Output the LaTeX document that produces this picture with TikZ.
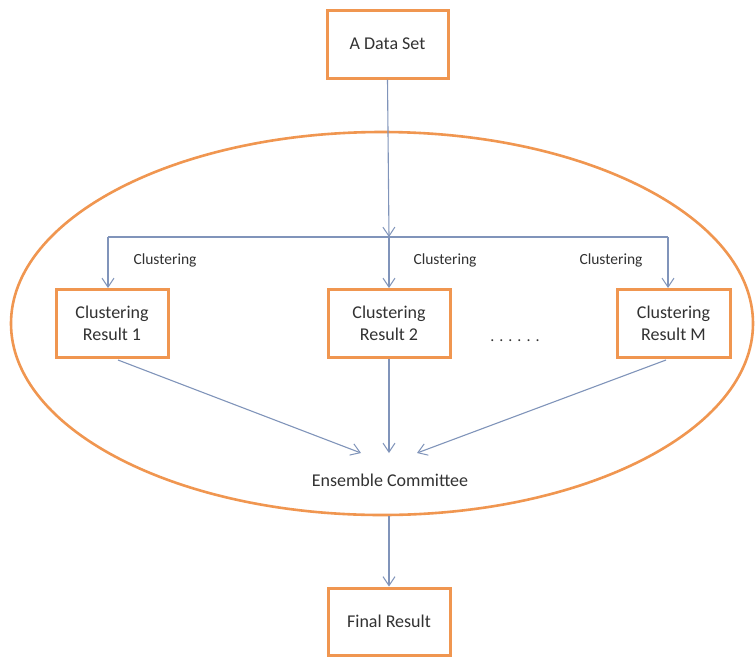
\documentclass[tikz,border=0pt]{standalone}
\usepackage{fontspec}
\setmainfont{Carlito}
\usetikzlibrary{arrows.meta,shapes.geometric}
\definecolor{boxorange}{RGB}{240,150,80}
\definecolor{linkblue}{RGB}{128,148,186}
\definecolor{txt}{RGB}{50,50,50}
\begin{document}
\begin{tikzpicture}[x=1pt,y=-1pt,
  box/.style={draw=boxorange,line width=3pt,fill=white,inner sep=0pt,
    minimum height=68pt,align=center,text=txt,font=\fontsize{18}{22}\selectfont},
  label/.style={text=txt,font=\fontsize{15.5}{18}\selectfont,inner sep=0pt},
  link/.style={draw=linkblue,line width=1.1pt,
    -{Straight Barb[length=9pt,width=12pt,line width=1pt]}},
  plain/.style={draw=linkblue,line width=1.1pt}]
\useasboundingbox (0,0) rectangle (755,657);
\fill[white] (0,0) rectangle (755,657);

% the committee ring
\node[ellipse,draw=boxorange,line width=2.6pt,minimum width=742pt,
  minimum height=383pt,inner sep=0pt] (ring) at (382,323.5) {};

% boxes
\node[box,minimum width=121pt] (data) at (387.5,44) {A Data Set};
\node[box,minimum width=112pt] (r1) at (112,323.5) {Clustering\\Result 1};
\node[box,minimum width=122pt] (r2) at (389,323.5) {Clustering\\Result 2};
\node[box,minimum width=113pt] (rm) at (673.5,323.5) {Clustering\\Result M};
\node[box,minimum width=122pt,minimum height=67pt] (final) at (389,621.5) {Final Result};

% labels
\node[label] (c1) at (165,260) {Clustering};
\node[label] (c2) at (445,260) {Clustering};
\node[label] (cm) at (611,260) {Clustering};
\node[text=txt,font=\fontsize{16}{18}\selectfont,inner sep=0pt] (dots) at (515,341)
  {.\hspace{5pt}.\hspace{5pt}.\hspace{5pt}.\hspace{5pt}.\hspace{5pt}.};
\node[text=txt,font=\fontsize{18}{22}\selectfont,inner sep=0pt] (ens) at (390,480) {Ensemble Committee};

% split of the data set
\coordinate (split) at (389,237);
\coordinate (bendL) at (108,237);
\coordinate (bendR) at (668,237);
\draw[link] (data.south) -- (split);
\draw[plain] (bendL) -- (bendR);
\draw[link] (bendL) -- (bendL |- r1.north);
\draw[link] (split) -- (r2.north);
\draw[link] (bendR) -- (bendR |- rm.north);

% results into the committee
\coordinate (inL) at (361,453);
\coordinate (inM) at (389,453);
\coordinate (inR) at (417,453);
\coordinate (outL) at (118,360);
\coordinate (outR) at (666,360);
\draw[link] (outL) -- (inL);
\draw[link] (r2.south) -- (inM);
\draw[link] (outR) -- (inR);

% committee to final result
\draw[link] (ring.south -| final.north) -- (final.north);
\end{tikzpicture}
\end{document}
